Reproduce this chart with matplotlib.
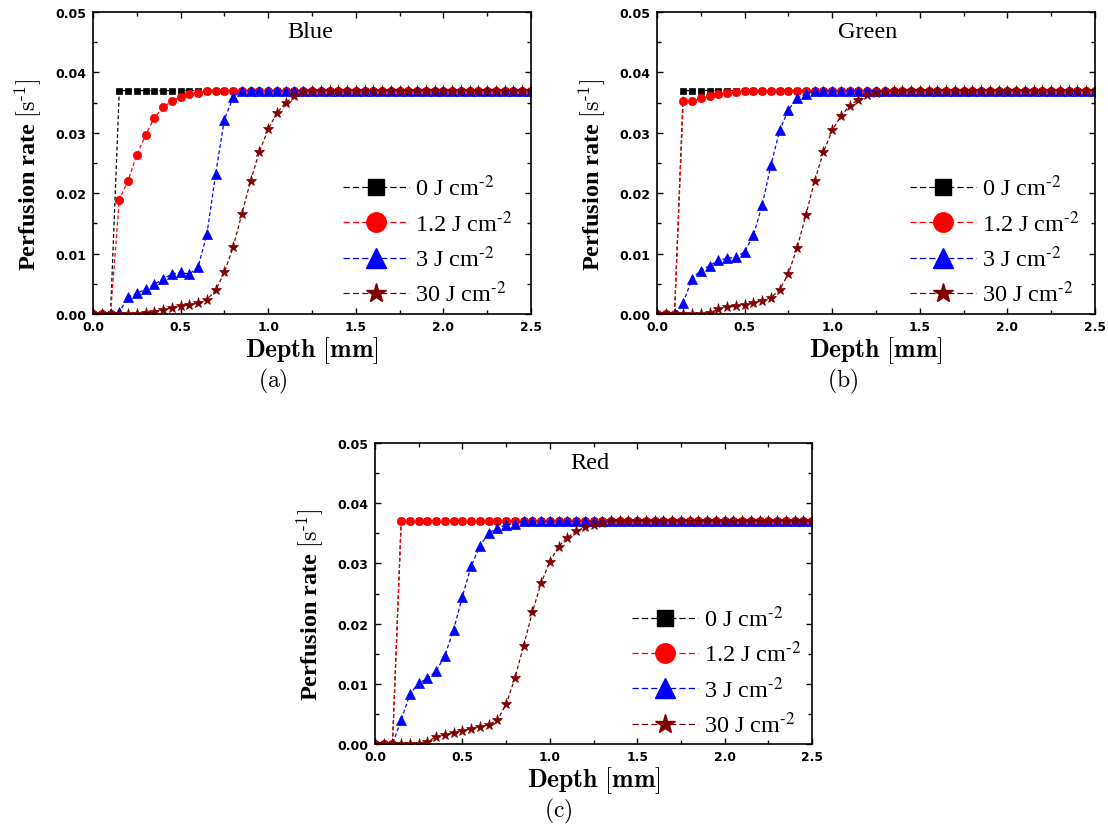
import numpy as np
import matplotlib
matplotlib.use("Agg")
import matplotlib.pyplot as plt
from matplotlib.lines import Line2D
from matplotlib.font_manager import FontProperties
from matplotlib.ticker import MultipleLocator, FormatStrFormatter

plt.rcParams["mathtext.fontset"] = "cm"

# ------------------------------------------------------------------ data ----
# depth samples every 0.05 mm, 0 .. 2.5 mm
DEPTH = np.round(np.arange(51) * 0.05, 2)

PLATEAU = 0.037

# blue light
BLUE_0 = [0.0] * 3 + [PLATEAU] * 48
BLUE_1_2 = [0.0, 0.0, 0.0, 0.0189, 0.0221, 0.0263, 0.0296, 0.0325, 0.0342,
            0.0353, 0.0359, 0.0364, 0.0366, 0.0369] + [PLATEAU] * 37
BLUE_3 = [0.0, 0.0, 0.0, 0.0003, 0.0028, 0.0034, 0.0041, 0.0049, 0.0058,
          0.0066, 0.0069, 0.0066, 0.0078, 0.0132, 0.0232, 0.0322,
          0.0359] + [PLATEAU] * 34
BLUE_30 = [0.0] * 6 + [0.0001, 0.0004, 0.0007, 0.0010, 0.0013, 0.0015, 0.0018,
                       0.0024, 0.0039, 0.0069, 0.0111, 0.0166, 0.0221, 0.0269,
                       0.0306, 0.0333, 0.0350, 0.0361, 0.0367,
                       0.0369] + [PLATEAU] * 25

# green light
GREEN_0 = [0.0] * 3 + [PLATEAU] * 48
GREEN_1_2 = [0.0, 0.0, 0.0, 0.0353, 0.0352, 0.0357, 0.0361, 0.0365, 0.0366,
             0.0368, 0.0369] + [PLATEAU] * 40
GREEN_3 = [0.0, 0.0, 0.0, 0.0019, 0.0058, 0.0072, 0.0080, 0.0089, 0.0092,
           0.0094, 0.0103, 0.0130, 0.0180, 0.0246, 0.0304, 0.0338, 0.0357,
           0.0365, 0.0369] + [PLATEAU] * 32
GREEN_30 = [0.0] * 6 + [0.0002, 0.0008, 0.0011, 0.0013, 0.0015, 0.0018,
                        0.0022, 0.0027, 0.0040, 0.0067, 0.0110, 0.0164,
                        0.0221, 0.0268, 0.0304, 0.0328, 0.0345, 0.0355,
                        0.0362, 0.0366, 0.0368] + [PLATEAU] * 24

# red light
RED_0 = [0.0] * 3 + [PLATEAU] * 48
RED_1_2 = [0.0] * 3 + [PLATEAU] * 48
RED_3 = [0.0, 0.0, 0.0, 0.0040, 0.0083, 0.0101, 0.0109, 0.0121, 0.0147,
         0.0190, 0.0245, 0.0295, 0.0329, 0.0350, 0.0359, 0.0364,
         0.0366] + [PLATEAU] * 34
RED_30 = [0.0] * 6 + [0.0004, 0.0012, 0.0015, 0.0018, 0.0022, 0.0025, 0.0028,
                      0.0032, 0.0040, 0.0066, 0.0109, 0.0163, 0.0219, 0.0267,
                      0.0303, 0.0328, 0.0343, 0.0353, 0.0360, 0.0364,
                      0.0367] + [PLATEAU] * 24

FLUENCE_LABELS = [r"0 J cm$^{\text{-}2}$", r"1.2 J cm$^{\text{-}2}$",
                  r"3 J cm$^{\text{-}2}$", r"30 J cm$^{\text{-}2}$"]

# ---------------------------------------------------------------- styles ----
SERIES_STYLE = [
    dict(color="#000000", marker="s", ms=4.8),
    dict(color="#ff0000", marker="o", ms=6.0),
    dict(color="#0000ff", marker="^", ms=6.5),
    dict(color="#800000", marker="*", ms=8.0),
]
LEGEND_MS = [11, 14, 14, 15]

W, H = 1108, 829


def fx(px):
    return px / W


def fy(py):
    return 1 - py / H


def draw_panel(rect, series, title, title_x, legend_xy, ylabel_xy, caption,
               caption_xy, fig):
    ax = fig.add_axes(rect)
    for vals, st in zip(series, SERIES_STYLE):
        ax.plot(DEPTH, vals, color=st["color"], lw=0.9, ls=(0, (3, 2)),
                marker=st["marker"], ms=st["ms"], mfc=st["color"],
                mec=st["color"], mew=0.5)

    ax.set_xlim(0, 2.5)
    ax.set_ylim(0, 0.05)
    ax.xaxis.set_major_locator(MultipleLocator(0.5))
    ax.xaxis.set_minor_locator(MultipleLocator(0.25))
    ax.yaxis.set_major_locator(MultipleLocator(0.01))
    ax.yaxis.set_minor_locator(MultipleLocator(0.005))
    ax.xaxis.set_major_formatter(FormatStrFormatter("%.1f"))
    ax.yaxis.set_major_formatter(FormatStrFormatter("%.2f"))
    ax.tick_params(which="both", direction="in", top=True, right=True,
                   width=1.0)
    ax.tick_params(which="major", length=4.5)
    ax.tick_params(which="minor", length=3)
    ax.tick_params(axis="y", which="major", labelsize=9, pad=5)
    ax.tick_params(axis="x", which="major", labelsize=8.8, pad=4)
    for lab in ax.get_xticklabels() + ax.get_yticklabels():
        lab.set_fontweight("bold")
        lab.set_family("DejaVu Sans")
    for sp in ax.spines.values():
        sp.set_linewidth(1.2)

    ax.text(title_x, 0.935, title, transform=ax.transAxes, ha="center",
            va="center", fontsize=17.5, family="Liberation Serif")

    ax.set_xlabel(r"$\mathbf{Depth\ [mm]}$", fontsize=18.5, labelpad=1)

    handles = [Line2D([], [], color=st["color"], lw=0.9, ls=(0, (5, 2.5)),
                      marker=st["marker"], ms=ms, mfc=st["color"],
                      mec=st["color"])
               for st, ms in zip(SERIES_STYLE, LEGEND_MS)]
    prop = FontProperties(family="Liberation Serif", size=17.5,
                          math_fontfamily="stix")
    ax.legend(handles, FLUENCE_LABELS, loc="upper left",
              bbox_to_anchor=legend_xy, frameon=False, prop=prop,
              handlelength=2.7, handletextpad=0.25, labelspacing=0.4,
              borderpad=0, borderaxespad=0, numpoints=1)

    fig.text(fx(ylabel_xy[0]), fy(ylabel_xy[1]),
             r"Perfusion rate $[\mathrm{s}^{\text{-}1}]$", rotation=90,
             ha="center", va="center", fontsize=17.5, fontweight="bold",
             family="Liberation Serif", math_fontfamily="cm")
    fig.text(fx(caption_xy[0]), fy(caption_xy[1]), caption, ha="center",
             va="center", fontsize=17)
    return ax


def main():
    fig = plt.figure(figsize=(W / 100, H / 100), dpi=100)
    fig.patch.set_facecolor("white")

    draw_panel([fx(93), fy(315), fx(438), 302 / H],
               [BLUE_0, BLUE_1_2, BLUE_3, BLUE_30], "Blue", 0.497,
               (0.571, 0.46), (28, 175), r"$\mathrm{(a)}$", (273, 381), fig)
    draw_panel([fx(657), fy(315), fx(438), 302 / H],
               [GREEN_0, GREEN_1_2, GREEN_3, GREEN_30], "Green", 0.482,
               (0.578, 0.46), (592, 175), r"$\mathrm{(b)}$", (843, 381), fig)
    draw_panel([fx(375), fy(745), fx(437), 301 / H],
               [RED_0, RED_1_2, RED_3, RED_30], "Red", 0.492,
               (0.588, 0.46), (310, 605), r"$\mathrm{(c)}$", (558, 811), fig)

    fig.savefig("out.png", dpi=100)
    plt.close(fig)


if __name__ == "__main__":
    main()
